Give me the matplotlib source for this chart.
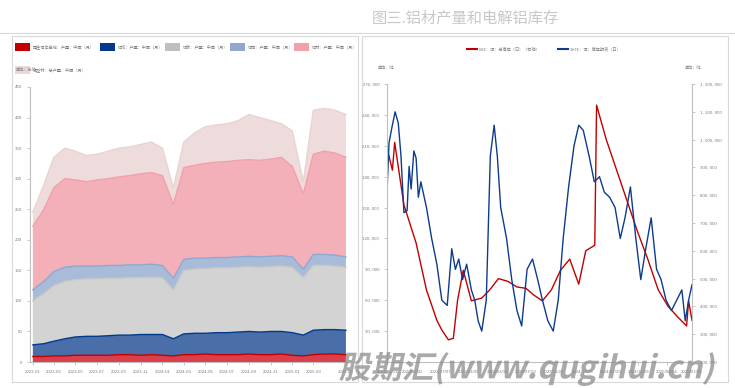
import numpy as np
import pandas as pd
import matplotlib
matplotlib.use('Agg')
import matplotlib.pyplot as plt
from matplotlib.ticker import FuncFormatter, MultipleLocator
from matplotlib.textpath import TextPath
from matplotlib.font_manager import FontProperties
from matplotlib.patches import PathPatch
from matplotlib.transforms import Affine2D, IdentityTransform

plt.rcParams['font.family'] = ['Noto Sans CJK SC', 'DejaVu Sans']
NARROW = ['Liberation Sans Narrow', 'Liberation Sans', 'DejaVu Sans']

# ---- left panel: monthly output, 万吨 (stacked layers, bottom -> top)
months = pd.date_range('2023-01-01', '2025-06-01', freq='MS')
alloy = [9, 9, 10, 10, 11, 11, 11, 11, 12, 12, 11, 12, 11, 10, 12,
         12, 13, 12, 12, 12, 13, 12, 12, 13, 11, 10, 12, 13, 13, 12]
wire = [19, 21, 24, 28, 30, 31, 31, 32, 32, 32, 34, 33, 34, 28, 34,
        35, 34, 36, 36, 37, 37, 37, 38, 37, 37, 34, 40, 40, 40, 40]
sheet = [72, 82, 91, 94, 94, 94, 94, 94, 93, 94, 93, 94, 93, 80, 104,
         105, 106, 106, 106, 106, 106, 106, 106, 107, 107, 94, 106, 105, 104, 103]
foil = [18, 20, 23, 23, 22, 21, 21, 21, 21, 21, 21, 21, 20, 19, 18,
        18, 17, 17, 17, 17, 17, 17, 17, 17, 17, 14, 18, 18, 18, 17]
profile = [104, 118, 137, 145, 141, 138, 141, 142, 145, 146, 149, 150, 147, 121, 150,
           152, 155, 156, 157, 158, 158, 158, 159, 161, 148, 123, 164, 169, 167, 163]
other = [23, 40, 50, 50, 47, 43, 42, 45, 47, 47, 48, 50, 45, 27, 42,
         53, 60, 61, 62, 65, 74, 70, 63, 55, 58, 20, 72, 70, 70, 70]
left_labels = ['再生铝合金锭：产量：中国（月）', '铝线：产量：中国（月）', '铝板：产量：中国（月）',
               '铝箔：产量：中国（月）', '铝材：产量：中国（月）', '铝型材：总产量：中国（月）']
left_ticks = ['2023-01', '2023-03', '2023-05', '2023-07', '2023-09', '2023-11',
              '2024-01', '2024-03', '2024-05', '2024-07', '2024-09', '2024-11',
              '2025-01', '2025-03', '2025-06']

# ---- right panel: exchange inventories, 吨
shfe_dates = ['2021-11-11', '2021-11-20', '2021-12-03', '2021-12-17', '2021-12-31', '2022-01-12',
              '2022-01-25', '2022-02-08', '2022-02-17', '2022-02-26', '2022-03-10', '2022-03-20',
              '2022-03-30', '2022-04-10', '2022-05-05', '2022-05-28', '2022-06-20', '2022-07-12',
              '2022-08-05', '2022-08-25', '2022-09-10', '2022-09-25', '2022-10-12', '2022-10-30',
              '2022-11-20', '2022-12-05', '2022-12-20', '2023-01-05', '2023-01-25', '2023-02-12',
              '2023-03-01', '2023-03-15', '2023-03-30', '2023-04-25', '2023-05-18', '2023-06-10',
              '2023-07-01', '2023-07-25', '2023-08-18', '2023-09-10', '2023-10-01', '2023-10-25',
              '2023-11-18', '2023-12-10', '2024-01-01', '2024-01-25', '2024-02-18', '2024-03-10',
              '2024-03-30', '2024-04-25', '2024-05-18', '2024-06-10', '2024-07-01', '2024-07-25',
              '2024-08-18', '2024-09-10', '2024-10-01', '2024-10-25', '2024-11-18', '2024-12-10',
              '2025-01-01', '2025-01-25', '2025-02-18', '2025-03-10', '2025-04-01', '2025-04-25',
              '2025-05-18', '2025-06-10', '2025-06-25', '2025-07-10', '2025-07-25']
shfe = [165000, 213000, 228000, 243000, 232000, 200000, 145000, 147000, 190000, 168000,
        205000, 198000, 160000, 175000, 150000, 120000, 95000, 60000, 55000, 110000,
        90000, 100000, 80000, 95000, 70000, 60000, 40000, 30000, 60000, 200000,
        230000, 200000, 150000, 120000, 80000, 50000, 35000, 90000, 100000, 80000,
        60000, 40000, 30000, 60000, 120000, 170000, 210000, 230000, 225000, 200000,
        175000, 180000, 165000, 160000, 150000, 120000, 140000, 170000, 120000, 80000,
        110000, 140000, 90000, 80000, 60000, 50000, 60000, 70000, 40000, 60000, 75000]
lme_dates = ['2021-11-11', '2021-12-05', '2021-12-15', '2022-01-25', '2022-03-20', '2022-05-05',
             '2022-06-20', '2022-07-12', '2022-08-10', '2022-09-01', '2022-09-20', '2022-10-15',
             '2022-11-20', '2023-01-05', '2023-02-10', '2023-03-20', '2023-05-01', '2023-06-10',
             '2023-07-20', '2023-08-25', '2023-10-01', '2023-11-10', '2023-12-20', '2024-01-30',
             '2024-03-10', '2024-04-10', '2024-05-20', '2024-05-28', '2024-07-10', '2024-08-25',
             '2024-10-10', '2024-11-25', '2025-01-10', '2025-02-25', '2025-04-10', '2025-05-25',
             '2025-07-01', '2025-07-10', '2025-07-25']
lme = [970000, 890000, 990000, 765000, 628000, 459000, 350000, 315000, 280000, 285000,
       423000, 530000, 420000, 430000, 460000, 500000, 490000, 470000, 465000, 440000,
       420000, 460000, 530000, 570000, 480000, 600000, 620000, 1124000, 1000000, 890000,
       780000, 670000, 570000, 460000, 400000, 360000, 330000, 420000, 350000]
right_ticks = ['2021-11-11', '2022-03-02', '2022-07-07', '2022-11-09', '2023-03-15', '2023-07-19',
               '2023-11-21', '2024-03-26', '2024-07-29', '2024-11-29', '2025-04-04', '2025-07-25']

AX_GRAY = '#bfbfbf'
TXT_GRAY = '#808080'
FS = 3.0
TICK_FS = 3.2
W, H = 735, 388


def px(x, y):
    # pixel position (from top-left) -> figure fraction
    return x / W, 1 - y / H


fig = plt.figure(figsize=(7.35, 3.88), dpi=100)
fig.patch.set_facecolor('white')

# title + panel frames
fig.text(*px(465, 18), '图三.铝材产量和电解铝库存', ha='center', va='center',
         fontsize=11, color='#c8c8c8')
fig.add_artist(plt.Line2D([0, 1], [1 - 33 / H] * 2, color='#d9d9d9', lw=0.8))
fig.add_artist(plt.Rectangle(px(12, 382), 346 / W, 346 / H, fill=False, ec='#d9d9d9', lw=0.8))
fig.add_artist(plt.Rectangle(px(362, 382), 366 / W, 346 / H, fill=False, ec='#d9d9d9', lw=0.8))


def style_axis(ax):
    for s in ['top', 'right']:
        ax.spines[s].set_visible(False)
    for s in ['left', 'bottom']:
        ax.spines[s].set_color(AX_GRAY)
        ax.spines[s].set_linewidth(0.8)
    ax.tick_params(colors=AX_GRAY, labelcolor=TXT_GRAY, labelsize=TICK_FS, length=2, width=0.6)
    for lab in ax.get_xticklabels() + ax.get_yticklabels():
        lab.set_family(NARROW)


# ---- left stacked area
ax1 = fig.add_axes([30 / W, 26 / H, 317 / W, 275 / H])
fills = ['#d9404c', '#4a6ea8', '#d3d3d3', '#a8bbd9', '#f3b0b9', '#eedcdd']
edges = ['#c00000', '#003a8c', '#c8c8c8', '#8fa8cf', '#f2a0ab', '#ead3d5']
series = [alloy, wire, sheet, foil, profile, other]
ax1.stackplot(months, *series, colors=fills, edgecolor='none')
cum = np.cumsum(np.array(series), axis=0)
for top, ec in zip(cum, edges):
    ax1.plot(months, top, color=ec, lw=1.0)
ax1.set_ylim(0, 450)
ax1.set_xlim(months[0] - pd.Timedelta(days=8), months[-1] + pd.Timedelta(days=3))
ax1.yaxis.set_major_locator(MultipleLocator(50))
ax1.set_xticks(pd.to_datetime(left_ticks))
ax1.set_xticklabels(left_ticks)
style_axis(ax1)

# left legend, laid out by hand (five items on the first row, one on the second)
leg_colors = ['#c00000', '#003a8c', '#bfbfbf', '#8fa9cf', '#f4a0aa', '#ecd6d8']
leg_pos = [(15, 47), (100, 47), (165, 47), (230, 47), (294, 47), (15, 70)]
for (x, y), c, lab in zip(leg_pos, leg_colors, left_labels):
    fig.add_artist(plt.Rectangle(px(x, y + 3.5), 15 / W, 7 / H, fc=c, ec='none'))
    fig.text(*px(x + 18, y), lab, fontsize=FS, color=TXT_GRAY, va='center')
fig.text(*px(16, 70), '单位：万吨', fontsize=FS, color=TXT_GRAY, va='center')

# ---- right inventories
ax2 = fig.add_axes([387 / W, 26 / H, 305 / W, 278 / H])
ax3 = ax2.twinx()
l1, = ax3.plot(pd.to_datetime(lme_dates), lme, color='#c00000', lw=1.0)
l2, = ax2.plot(pd.to_datetime(shfe_dates), shfe, color='#0d3b8e', lw=1.0)
ax2.set_zorder(ax3.get_zorder() + 1)
ax2.patch.set_visible(False)
ax2.set_ylim(0, 270000)
ax2.yaxis.set_major_locator(MultipleLocator(30000))
ax3.set_ylim(200000, 1200000)
ax3.yaxis.set_major_locator(MultipleLocator(100000))
fmt = FuncFormatter(lambda v, p: f'{v:,.0f}'.replace(',', ', '))
ax2.yaxis.set_major_formatter(fmt)
ax3.yaxis.set_major_formatter(fmt)
ax2.set_xlim(pd.Timestamp('2021-11-11'), pd.Timestamp('2025-07-25'))
ax2.set_xticks(pd.to_datetime(right_ticks))
ax2.set_xticklabels([t.replace('-', '/') for t in right_ticks])
style_axis(ax2)
for s in ['top', 'left', 'bottom']:
    ax3.spines[s].set_visible(False)
ax3.spines['right'].set_color(AX_GRAY)
ax3.spines['right'].set_linewidth(0.8)
ax3.tick_params(colors=AX_GRAY, labelcolor=TXT_GRAY, labelsize=TICK_FS, length=2, width=0.6)
for lab in ax3.get_yticklabels():
    lab.set_family(NARROW)

# right legend by hand
for (x0, x1), c, lab in zip([(467, 477), (558, 568)], ['#c00000', '#0d3b8e'],
                            ['LME：铝：总库存（日）（右轴）', 'SHFE：铝：库存期货（日）']):
    fig.add_artist(plt.Line2D([x0 / W, x1 / W], [1 - 49 / H] * 2, color=c, lw=1.5))
    fig.text(*px(x1 + 2, 49), lab, fontsize=FS, color=TXT_GRAY, va='center')
fig.text(*px(378, 68), '单位：吨', fontsize=FS, color=TXT_GRAY, va='center')
fig.text(*px(685, 68), '单位：吨', fontsize=FS, color=TXT_GRAY, va='center')

# watermark: slanted bold text drawn as a path in pixel coordinates
wm = TextPath((0, 0), '股期汇(www.qugihui.cn)', size=40,
              prop=FontProperties(family='Noto Sans CJK SC', weight='bold'))
bb = wm.get_extents()
k = 372 / bb.width
wm_tf = (Affine2D().translate(-bb.x0, -bb.y0).scale(k).skew_deg(12, 0)
         .translate(338, 2))
fig.add_artist(PathPatch(wm, transform=wm_tf + IdentityTransform(), fc='#8c8c8c',
                         ec='none', alpha=0.75, zorder=10))

fig.savefig('out.png', dpi=100)
